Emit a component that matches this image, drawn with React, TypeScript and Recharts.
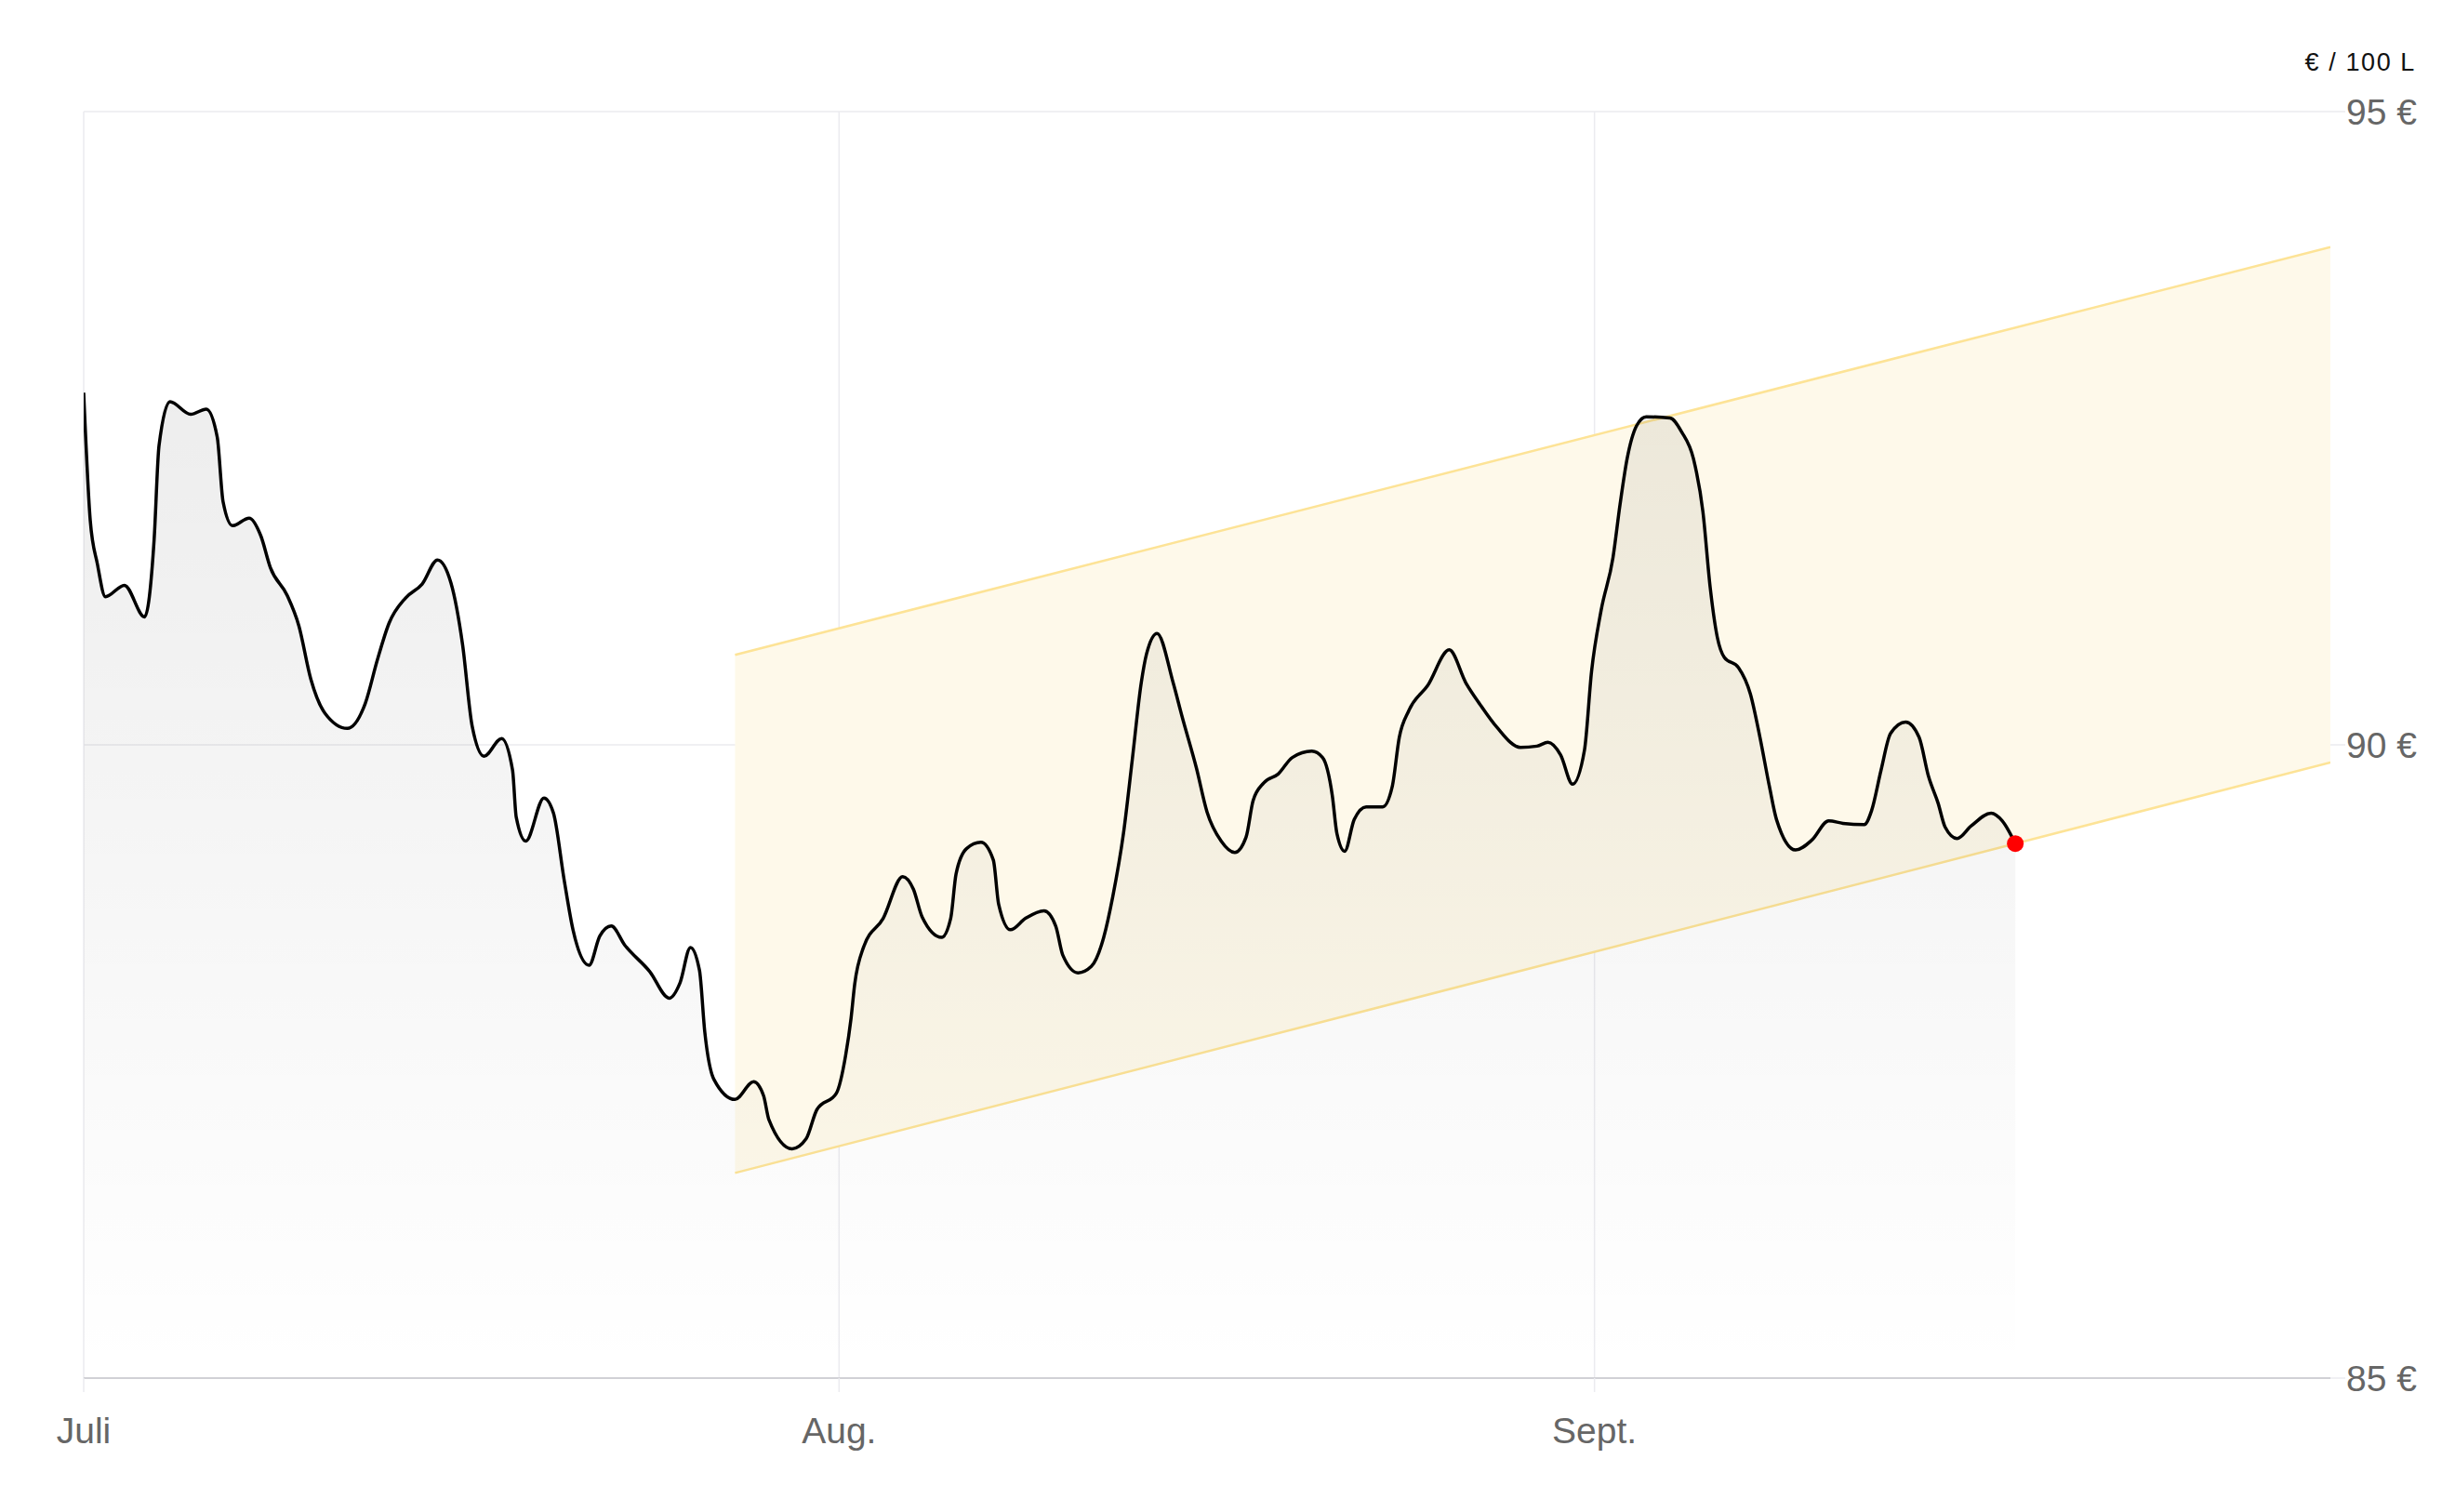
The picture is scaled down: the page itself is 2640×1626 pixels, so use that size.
import React from 'react';
import { ComposedChart, Area, XAxis, YAxis, CartesianGrid, ReferenceDot } from 'recharts';

// Days since 1 July (fractional positions)
const priceDays = [
  0, 0.27, 0.56, 0.89, 1.67, 2.5, 2.89, 3.09, 3.54, 4.39, 5.03, 5.48, 5.72, 6.11, 6.79, 7.27, 7.66,
  8.35, 8.83, 9.32, 9.9, 10.82, 11.56, 12.05, 12.53, 13.21, 13.89, 14.52, 15.07, 15.55, 15.94, 16.43,
  17.15, 17.6, 17.75, 18.14, 18.89, 19.28, 19.72, 20.08, 20.74, 21.18, 21.65, 22.2, 23.23, 24.03,
  24.47, 24.9, 25.27, 25.49, 25.86, 26.73, 27.49, 27.9, 28.12, 29.07, 29.65, 30.09, 30.89, 31.27,
  31.49, 31.64, 32.0, 32.81, 33.61, 34.05, 34.41, 35.21, 35.58, 35.8, 36.23, 36.82, 37.33, 37.55,
  38.03, 38.65, 39.41, 39.89, 40.18, 40.81, 41.35, 41.86, 42.23, 42.67, 43.03, 43.4, 43.62, 44.05,
  44.71, 45.08, 45.66, 46.1, 46.68, 47.24, 47.7, 47.99, 48.43, 49.02, 49.6, 50.4, 50.84, 51.24,
  51.43, 51.75, 52.14, 52.63, 53.31, 53.7, 53.99, 54.38, 55.16, 56.04, 56.72, 57.3, 57.99, 58.96,
  59.64, 60.09, 60.61, 61.1, 61.59, 61.88, 62.27, 62.76, 63.05, 63.34, 63.73, 64.12, 65.1, 65.58,
  66.06, 66.45, 66.75, 67.04, 67.33, 67.91, 68.4, 68.79, 69.18, 69.47, 70.25, 70.93, 71.61, 72.2,
  73.07, 73.37, 73.76, 74.15, 74.77, 75.32, 75.71, 76.1, 76.39, 76.88, 77.46, 78.28, 78.73, 79.27,
];

const priceValues = [
  92.78, 91.77, 91.43, 91.17, 91.26, 91.01, 91.62, 92.36, 92.71, 92.61, 92.65, 92.43, 91.92, 91.73,
  91.79, 91.65, 91.4, 91.18, 90.94, 90.52, 90.25, 90.13, 90.33, 90.67, 90.96, 91.16, 91.27, 91.46,
  91.28, 90.79, 90.15, 89.91, 90.05, 89.8, 89.43, 89.24, 89.58, 89.46, 88.93, 88.54, 88.26, 88.49,
  88.57, 88.42, 88.21, 88.0, 88.12, 88.4, 88.22, 87.73, 87.36, 87.2, 87.34, 87.23, 87.04, 86.81,
  86.89, 87.12, 87.25, 87.55, 87.84, 88.11, 88.4, 88.63, 88.96, 88.86, 88.64, 88.48, 88.63, 88.98,
  89.18, 89.23, 89.09, 88.74, 88.54, 88.63, 88.69, 88.57, 88.34, 88.2, 88.25, 88.48, 88.8, 89.3,
  89.88, 90.49, 90.72, 90.88, 90.49, 90.22, 89.82, 89.47, 89.24, 89.15, 89.27, 89.56, 89.7, 89.77,
  89.9, 89.95, 89.9, 89.6, 89.3, 89.16, 89.41, 89.51, 89.51, 89.67, 90.06, 90.27, 90.47, 90.75,
  90.49, 90.32, 90.14, 89.98, 89.99, 90.02, 89.92, 89.69, 89.96, 90.58, 91.06, 91.48, 91.9, 92.26,
  92.52, 92.59, 92.58, 92.47, 92.26, 91.84, 91.24, 90.85, 90.69, 90.61, 90.4, 90.06, 89.67, 89.41,
  89.17, 89.25, 89.4, 89.38, 89.37, 89.48, 89.8, 90.09, 90.18, 90.06, 89.75, 89.54, 89.35, 89.26,
  89.36, 89.46, 89.4, 89.22,
];

const bandDays = [26.73, 92.2];
const bandLower = [86.62, 89.86];
const bandUpper = [90.71, 93.93];

const monthTicks = [0, 31, 62];
const monthLabels = ['Juli', 'Aug.', 'Sept.'];
const yTicks = [85, 90, 95];
const unitLabel = '€ / 100 L';

const priceData = priceDays.map((d, i) => ({ day: d, price: priceValues[i] }));
const bandData = bandDays.map((d, i) => ({ day: d, band: [bandLower[i], bandUpper[i]] }));
const lastIndex = priceDays.length - 1;

const FONT = '"Liberation Sans", Arial, sans-serif';
const GRID = '#ebebef';

const verticalGen = (props: any) => {
  const xAxis = props?.xAxis;
  const scale = xAxis?.scale;
  if (!scale) return [];
  const fn = typeof scale === 'function' ? scale : scale.map ?? scale.scale;
  return monthTicks.map((t) => (typeof fn === 'function' ? fn(t) : 0));
};

export default function App() {
  return (
    <div style={{ position: 'relative', width: 2624, height: 1610, fontFamily: FONT }}>
      <div
        style={{
          position: 'absolute',
          right: 34,
          top: 46,
          fontSize: 27,
          lineHeight: 1,
          letterSpacing: 1.6,
          color: '#111',
          fontFamily: FONT,
          whiteSpace: 'nowrap',
        }}
      >
        {unitLabel}
      </div>
      <ComposedChart width={2624} height={1610} margin={{ top: 112, right: 0, bottom: 36, left: 82 }}>
        <defs>
          <linearGradient id="priceFill" x1="0" y1="0" x2="0" y2="1">
            <stop offset="0%" stopColor="#000" stopOpacity={0.07} />
            <stop offset="100%" stopColor="#000" stopOpacity={0.0} />
          </linearGradient>
        </defs>
        <CartesianGrid stroke={GRID} strokeWidth={1.5} verticalCoordinatesGenerator={verticalGen} />
        <XAxis
          dataKey="day"
          type="number"
          domain={[0, 92.2]}
          allowDataOverflow
          ticks={monthTicks}
          interval={0}
          tickFormatter={(v: number) => monthLabels[monthTicks.indexOf(v)] ?? ''}
          height={100}
          tickSize={15}
          tickMargin={27}
          tickLine={{ stroke: GRID, strokeWidth: 1.5 }}
          axisLine={{ stroke: '#d1d1d6', strokeWidth: 2 }}
          tick={{ fill: '#666', fontSize: 39, fontFamily: FONT }}
        />
        <YAxis
          orientation="right"
          type="number"
          domain={[85, 95]}
          ticks={yTicks}
          interval={0}
          width={126}
          tickSize={16}
          tickMargin={1}
          tickLine={{ stroke: GRID, strokeWidth: 1.5 }}
          axisLine={false}
          tickFormatter={(v: number) => `${v} €`}
          tick={{ fill: '#666', fontSize: 39, fontFamily: FONT }}
        />
        <Area
          data={bandData}
          dataKey="band"
          type="linear"
          stroke="#fde396"
          strokeWidth={2.5}
          fill="#fef9ea"
          fillOpacity={1}
          dot={false}
          activeDot={false}
          isAnimationActive={false}
        />
        <Area
          data={priceData}
          dataKey="price"
          type="monotone"
          baseValue={85}
          stroke="#000"
          strokeWidth={3.5}
          fill="url(#priceFill)"
          fillOpacity={1}
          dot={false}
          activeDot={false}
          isAnimationActive={false}
        />
        <ReferenceDot
          x={priceDays[lastIndex]}
          y={priceValues[lastIndex]}
          r={9}
          fill="#ff0000"
          stroke="none"
          ifOverflow="visible"
        />
      </ComposedChart>
    </div>
  );
}
